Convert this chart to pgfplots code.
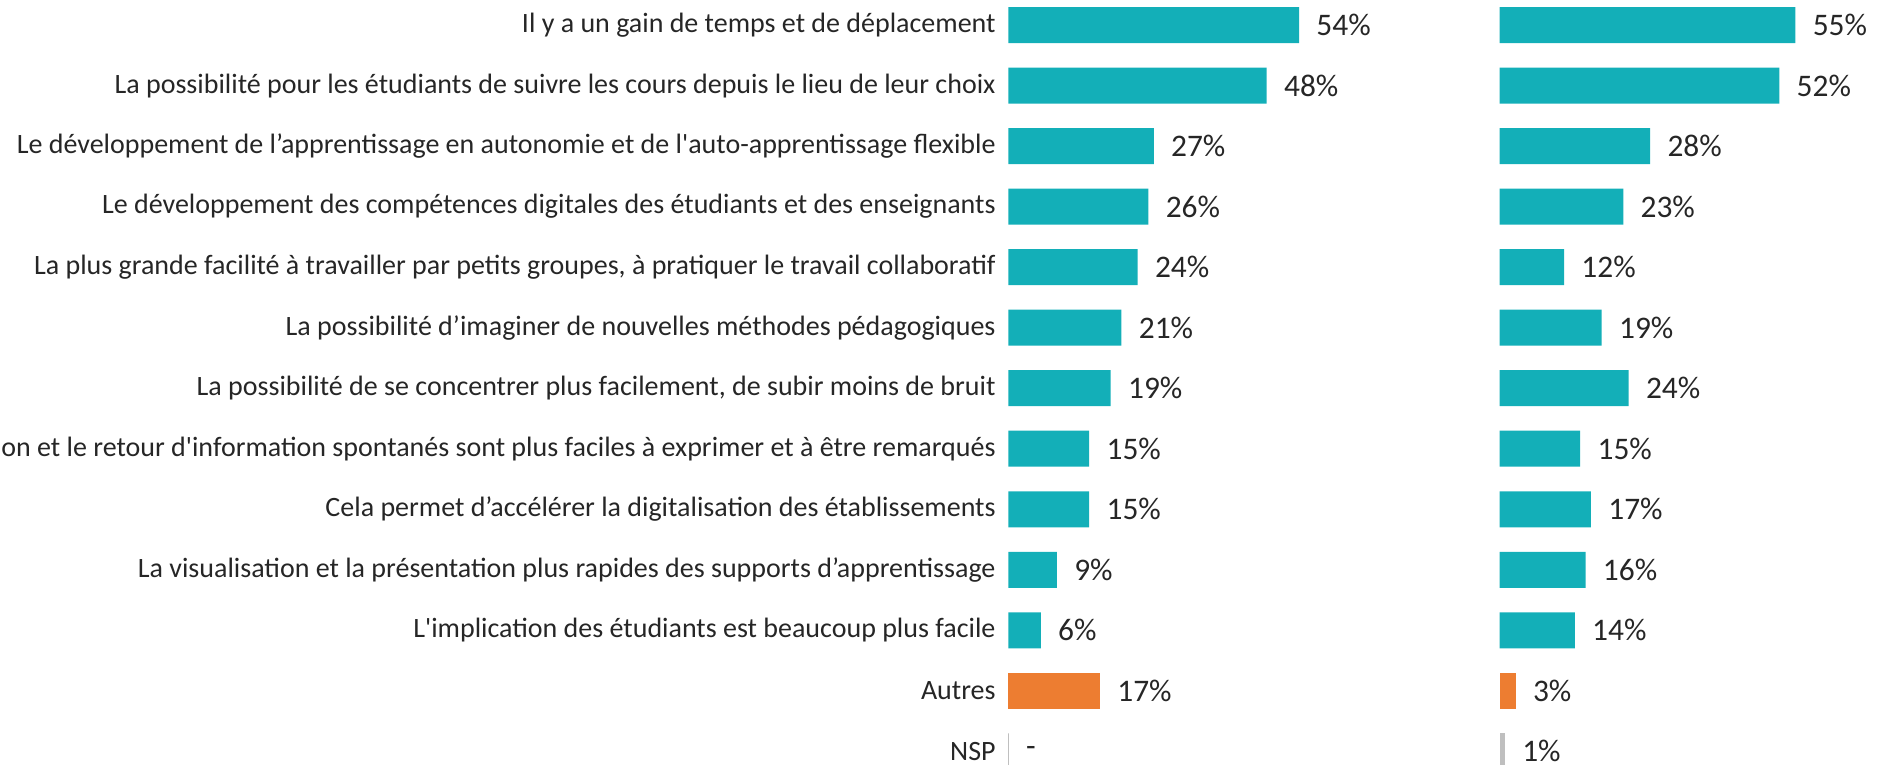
\documentclass[border=0pt]{standalone}
\usepackage{fontspec}
\setmainfont{Carlito}[Ligatures=TeXOff]
\usepackage{pgfplots}
\pgfplotsset{compat=1.18}
\definecolor{teal1}{HTML}{13AFB8}
\definecolor{orange1}{HTML}{ED7D31}
\definecolor{gray1}{HTML}{BFBFBF}
\definecolor{txt}{HTML}{262626}
\pgfplotsset{mybars/.style={
  scale only axis, width=161.4pt, height=393.45pt,
  xmin=0, xmax=60, ymin=0.5, ymax=13.5, y dir=reverse,
  axis line style={draw=none}, tick style={draw=none}, major tick length=0pt,
  xtick=\empty,
  xbar, bar width=18pt, bar shift=0pt,
  clip=false,
  nodes near coords, point meta=explicit symbolic,
  every node near coord/.append style={anchor=west, inner sep=0pt, xshift=8.5pt,
     font=\fontsize{15.7}{18}\selectfont, text=txt},
}}
\begin{document}
\begin{tikzpicture}
\begin{axis}[mybars, at={(504.25pt,2.63pt)}, anchor=north west,
  ytick={1,...,13},
  yticklabels={Il y a un gain de temps et de déplacement,
    La possibilité pour les étudiants de suivre les cours depuis le lieu de leur choix,
    Le développement de l’apprentissage en autonomie et de l'auto-apprentissage flexible,
    Le développement des compétences digitales des étudiants et des enseignants,
    {La plus grande facilité à travailler par petits groupes, à pratiquer le travail collaboratif},
    La possibilité d’imaginer de nouvelles méthodes pédagogiques,
    {La possibilité de se concentrer plus facilement, de subir moins de bruit},
    La participation et le retour d'information spontanés sont plus faciles à exprimer et à être remarqués,
    Cela permet d’accélérer la digitalisation des établissements,
    La visualisation et la présentation plus rapides des supports d’apprentissage,
    L'implication des étudiants est beaucoup plus facile,
    Autres, NSP},
  yticklabel style={anchor=east, inner sep=0pt, xshift=-6.25pt, font=\fontsize{14}{17}\selectfont, text=txt},
]
\addplot[fill=teal1, draw=none] coordinates {
 (54,1) [54\%] (48,2) [48\%] (27,3) [27\%] (26,4) [26\%] (24,5) [24\%]
 (21,6) [21\%] (19,7) [19\%] (15,8) [15\%] (15,9) [15\%] (9,10) [9\%] (6,11) [6\%]};
\addplot[fill=orange1, draw=none] coordinates {(17,12) [17\%]};
\addplot[fill=gray1, draw=gray1, line width=0.6pt] coordinates {(0,13) [-]};
\end{axis}
\begin{axis}[mybars, at={(749.75pt,2.63pt)}, anchor=north west, ytick=\empty]
\addplot[fill=teal1, draw=none] coordinates {
 (55,1) [55\%] (52,2) [52\%] (28,3) [28\%] (23,4) [23\%] (12,5) [12\%]
 (19,6) [19\%] (24,7) [24\%] (15,8) [15\%] (17,9) [17\%] (16,10) [16\%] (14,11) [14\%]};
\addplot[fill=orange1, draw=none] coordinates {(3,12) [3\%]};
\addplot[fill=gray1, draw=none] coordinates {(1,13) [1\%]};
\end{axis}
\pgfresetboundingbox
\useasboundingbox (0,0) rectangle (943.5pt,-382.5pt);
\end{tikzpicture}
\end{document}
